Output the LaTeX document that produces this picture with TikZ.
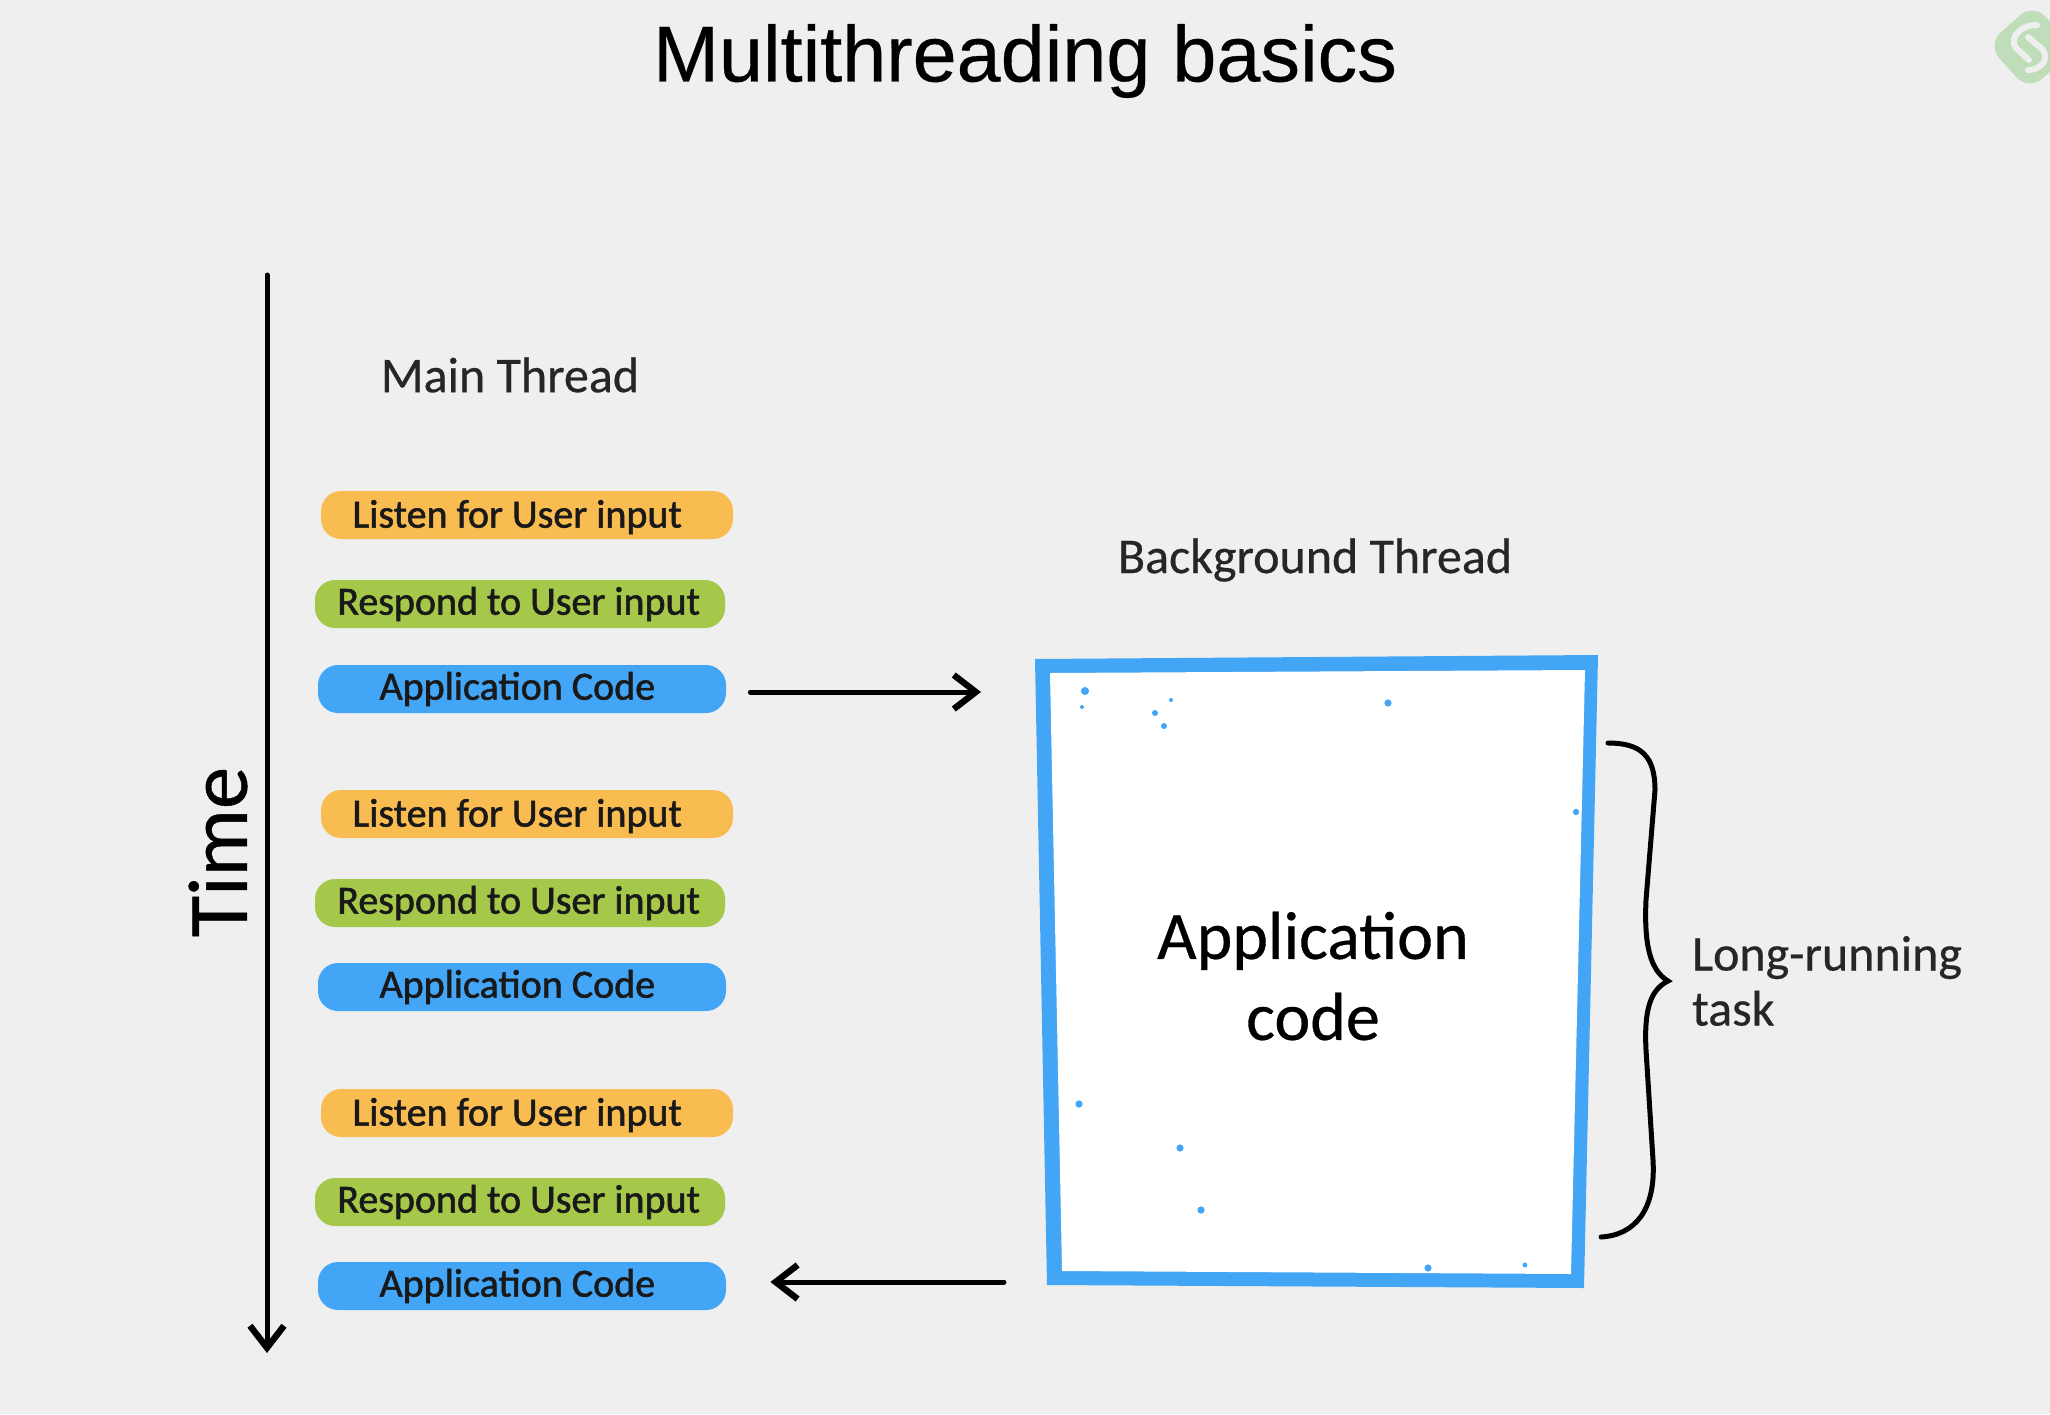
\documentclass[tikz,border=0pt]{standalone}
\usepackage{fontspec}
\setmainfont{Carlito}
\newfontfamily\titlefont[FakeBold=0.4]{Liberation Sans}
\newfontfamily\pillfont[FakeBold=1.4]{Carlito}
\newfontfamily\headfont[FakeBold=0.5]{Carlito}
\usetikzlibrary{arrows.meta}
\definecolor{pagegrey}{HTML}{EFEFEF}
\definecolor{listenorange}{HTML}{F9BC50}
\definecolor{respondgreen}{HTML}{A5C74A}
\definecolor{appblue}{HTML}{42A5F5}
\definecolor{logogreen}{HTML}{BFDDB9}
\tikzset{
    pill/.style={rounded corners=10pt, minimum height=24pt, inner sep=0pt, text=black!90, font=\pillfont\fontsize{20}{24}\selectfont},
    listen/.style={pill, fill=listenorange, minimum width=206pt, text height=16.6pt, text depth=4pt, execute at end node={\hspace{9.8pt}}},
    respond/.style={pill, fill=respondgreen, minimum width=205pt, execute at end node={\hspace{1.3pt}}},
    appcode/.style={pill, fill=appblue, minimum width=204pt, execute at end node={\hspace{4.6pt}}},
    heading/.style={text=black!85, font=\headfont\fontsize{25}{27.5}\selectfont},
    flow/.style={-{Straight Barb[length=11pt,width=17pt,line width=3.2pt]}, line width=2.5pt, line cap=round},
    speck/.style={fill=appblue},
}

\begin{document}
\begin{tikzpicture}[x=0.5pt, y=-0.5pt]
    \useasboundingbox (0,0) rectangle (2050,1414);
    \fill[pagegrey] (0,0) rectangle (2050,1414);
    \node (title) at (1025,61) {\titlefont\fontsize{39.6}{46}\selectfont Multithreading basics};
    % logo in the corner
    \fill[logogreen, rounded corners=9pt, rotate around={42:(2031,47)}] (2000,16) rectangle (2062,78);
    \draw[pagegrey, line width=3pt, line cap=round] (2037,25) .. controls (2022,24) and (2008,38) .. (2016,48) -- (2029,60);
    \draw[pagegrey, line width=3pt, line cap=round] (2028,37) -- (2042,49) .. controls (2050,58) and (2042,70) .. (2028,70);

    \draw[->, flow] (267,275) -- (267,1353);
    \node[rotate=90, font=\headfont\fontsize{42.3}{48}\selectfont] (time) at (218,852) {Time};
    \node[heading] (main) at (510,375) {Main Thread};
    \node[heading] (background) at (1315,560) {Background Thread};

    \node[listen] (listen1) at (527,515) {Listen for User input};
    \node[respond] (respond1) at (520,604) {Respond to User input};
    \node[appcode] (app1) at (522,689) {Application Code};
    \node[listen] (listen2) at (527,814) {Listen for User input};
    \node[respond] (respond2) at (520,903) {Respond to User input};
    \node[appcode] (app2) at (522,987) {Application Code};
    \node[listen] (listen3) at (527,1113) {Listen for User input};
    \node[respond] (respond3) at (520,1202) {Respond to User input};
    \node[appcode] (app3) at (522,1286) {Application Code};

    % the box leans a little, so it is two filled outlines
    \coordinate (boxnw) at (1035,659);
    \coordinate (boxne) at (1598,655);
    \coordinate (boxse) at (1584,1288);
    \coordinate (boxsw) at (1047,1285);
    \fill[appblue] (boxnw) -- (boxne) -- (boxse) -- (boxsw) -- cycle;
    \fill[white] (1050,673) -- (1585,670) -- (1571,1274) -- (1062,1271) -- cycle;
    \fill[speck] (1085,691) circle(2pt);
    \fill[speck] (1082,707) circle(1pt);
    \fill[speck] (1155,713) circle(1.5pt);
    \fill[speck] (1164,726) circle(1.5pt);
    \fill[speck] (1171,700) circle(1pt);
    \fill[speck] (1388,702) circle(1pt);
    \fill[speck] (1388,703) circle(1.8pt);
    \fill[speck] (1576,812) circle(1.6pt);
    \fill[speck] (1079,1104) circle(1.8pt);
    \fill[speck] (1180,1148) circle(1.8pt);
    \fill[speck] (1201,1210) circle(1.8pt);
    \fill[speck] (1428,1268) circle(1.8pt);
    \fill[speck] (1525,1265) circle(1.2pt);
    \node[font=\headfont\fontsize{34}{40.5}\selectfont, align=center] (boxtext) at (1313,976) {Application\\code};

    \coordinate (backin) at (981,692);
    \coordinate (backout) at (1004,1282);
    \draw[->, flow, shorten <=12pt] (app1.east |- backin) -- (backin);
    \draw[->, flow, shorten >=22pt] (backout) -- (app3.east |- backout);

    % brace on the right of the box
    \coordinate (bracetop) at (1608,743);
    \coordinate (bracetip) at (1668,981);
    \coordinate (braceend) at (1601,1237);
    \draw[line width=2.5pt, line cap=round] (bracetop) .. controls (1640,743) and (1655,755) .. (1655,790)
        -- (1646,900) .. controls (1644,945) and (1650,970) .. (bracetip)
        .. controls (1650,990) and (1644,1010) .. (1646,1050)
        -- (1653,1160) .. controls (1656,1210) and (1635,1235) .. (braceend);
    \node[heading, align=left, anchor=west] (longtask) at (1685,981) {Long-running\\task};
\end{tikzpicture}
\end{document}
